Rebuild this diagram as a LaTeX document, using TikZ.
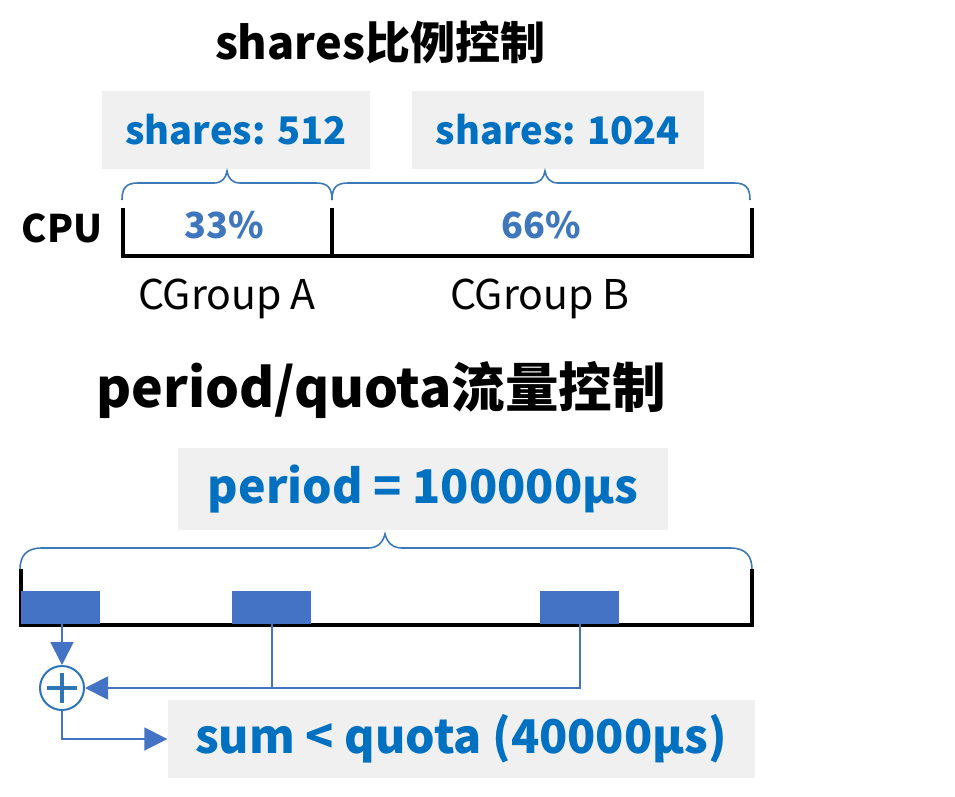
\documentclass[tikz,border=0pt]{standalone}
\usepackage{fontspec}
\setmainfont{Noto Sans CJK SC}
\usetikzlibrary{arrows.meta}
\definecolor{txtblue}{HTML}{0070C0}
\definecolor{pctblue}{HTML}{3F77BC}
\definecolor{braceblue}{HTML}{3B79B8}
\definecolor{blockblue}{HTML}{4472C4}
\definecolor{circblue}{HTML}{2E75B6}
\definecolor{boxgray}{HTML}{F0F0F0}
\tikzset{
  graybox/.style={fill=boxgray, draw=none, inner sep=0pt, text=txtblue, font=\fontsize{38}{46}\selectfont\bfseries},
  titletext/.style={inner sep=0pt, text=black, font=\bfseries},
  pcttext/.style={inner sep=0pt, text=pctblue, font=\fontsize{36}{42}\selectfont\bfseries},
  grouptext/.style={inner sep=0pt, text=black, font=\fontsize{41}{48}\selectfont},
  bracepath/.style={draw=braceblue, line width=1.6pt},
  barline/.style={draw=black, line width=4pt},
  block/.style={fill=blockblue, draw=none, inner sep=0pt, minimum width=79pt, minimum height=33pt},
  conn/.style={draw=blockblue, line width=1.8pt},
  bigarrow/.style={-{Triangle[length=23pt,width=23pt]}},
}
\begin{document}
\begin{tikzpicture}[x=1pt,y=-1pt]
\useasboundingbox (0,0) rectangle (955,797);
\fill[white] (0,0) rectangle (955,797);

% ---- Part 1: shares ----
\node[titletext, font=\fontsize{45}{54}\selectfont\bfseries] (t1) at (380,42) {shares比例控制};

\node[graybox, minimum width=268pt, minimum height=77pt] (s512) at (236,130) {shares: 512};
\node[graybox, minimum width=292pt, minimum height=77pt] (s1024) at (558,130) {shares: 1024};

% braces
\draw[bracepath] (122,200) .. controls (122,188) and (126,183) .. (138,183)
  -- (214,183) .. controls (222,183) and (226,178) .. (227,171)
  .. controls (228,178) and (232,183) .. (240,183)
  -- (316,183) .. controls (328,183) and (332,188) .. (332,200);
\draw[bracepath] (332,200) .. controls (332,188) and (336,183) .. (348,183)
  -- (532,183) .. controls (540,183) and (544,178) .. (545,171)
  .. controls (546,178) and (550,183) .. (558,183)
  -- (734,183) .. controls (746,183) and (750,188) .. (750,200);

% CPU bar
\node[titletext, font=\fontsize{38}{44}\selectfont\bfseries] (cpu) at (62,228) {CPU};
\coordinate (ba) at (123,208);
\coordinate (bb) at (123,256);
\coordinate (bc) at (752,256);
\coordinate (bd) at (752,208);
\coordinate (bm1) at (332,208);
\coordinate (bm2) at (332,256);
\draw[barline] (ba) -- (bb) -- (bc) -- (bd);
\draw[barline] (bm1) -- (bm2);

\node[pcttext] (p33) at (224,225) {33\%};
\node[pcttext] (p66) at (541,225) {66\%};

\node[grouptext] (ga) at (227,299) {CGroup A};
\node[grouptext] (gb) at (540,299) {CGroup B};

% ---- Part 2: period/quota ----
\node[titletext, font=\fontsize{53.5}{62}\selectfont\bfseries] (t2) at (381,390) {period/quota流量控制};

\node[graybox, font=\fontsize{46.5}{54}\selectfont\bfseries, minimum width=490pt, minimum height=82pt] (per) at (423,489) {period = 100000μs};

\draw[bracepath] (20,570) .. controls (20,556) and (26,548) .. (42,548)
  -- (368,548) .. controls (378,548) and (383,542) .. (385,534)
  .. controls (387,542) and (392,548) .. (402,548)
  -- (730,548) .. controls (746,548) and (752,556) .. (752,570);

% timeline
\coordinate (ta) at (21,569);
\coordinate (tb) at (21,625);
\coordinate (tc) at (752,625);
\coordinate (td) at (752,569);
\draw[barline] (ta) -- (tb) -- (tc) -- (td);

\node[block, anchor=north west] (b1) at (21,591) {};
\node[block, anchor=north west] (b2) at (232,591) {};
\node[block, anchor=north west] (b3) at (540,591) {};

% sum circle
\node[circle, draw=circblue, line width=2pt, minimum size=44pt, inner sep=0pt] (sum) at (62,688) {};
\draw[circblue, line width=3.8pt] ([yshift=-15pt]sum.center) -- ([yshift=15pt]sum.center)
  ([xshift=-15pt]sum.center) -- ([xshift=15pt]sum.center);

\node[graybox, font=\fontsize{46.5}{54}\selectfont\bfseries, minimum width=587pt, minimum height=78pt] (quota) at (461,739) {sum < quota (40000μs)};

% connectors
\draw[conn, bigarrow] (b1.south -| sum.north) -- (sum.north);
\coordinate (j2) at (b2.south |- sum.east);
\coordinate (j3) at (b3.south |- sum.east);
\draw[conn] (b2.south) -- (j2);
\draw[conn, bigarrow] (b3.south) -- (j3) -- (sum.east);
\coordinate (jq) at (sum.south |- quota.west);
\draw[conn, bigarrow] (sum.south) -- (jq) -- (quota.west);
\end{tikzpicture}
\end{document}
